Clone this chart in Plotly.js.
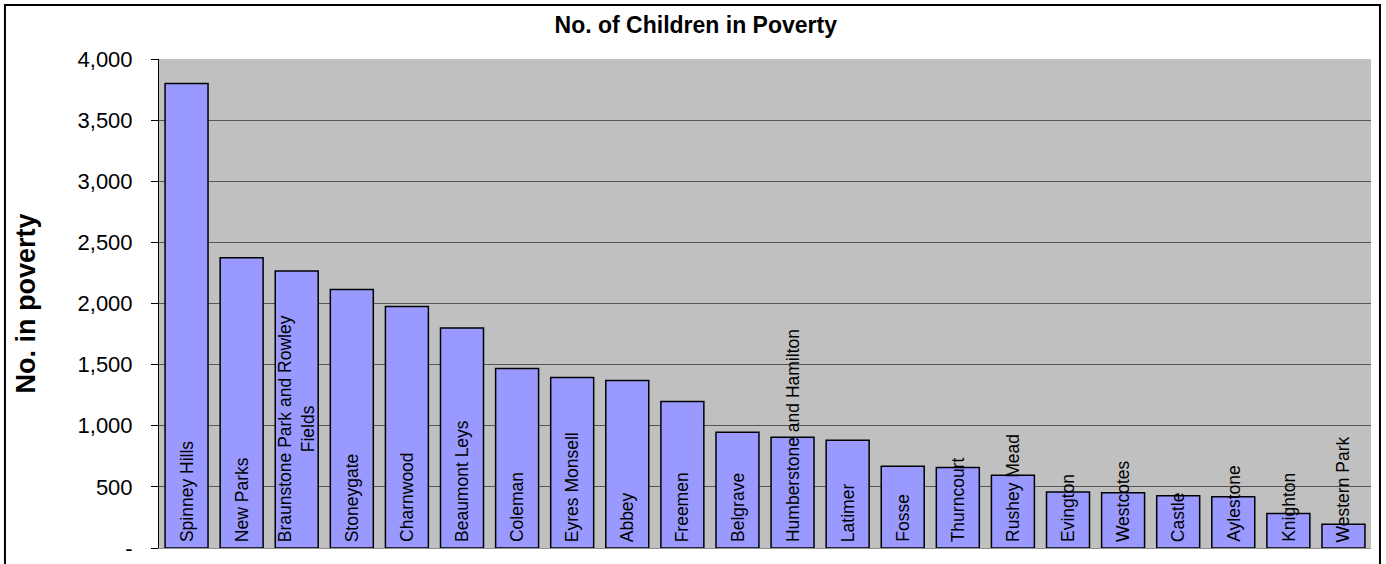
<!DOCTYPE html>
<html>
<head>
<meta charset="utf-8">
<script src="https://cdn.plot.ly/plotly-3.0.1.min.js"></script>
<style>html,body{margin:0;padding:0;background:#fff;}#chart{width:1386px;height:564px;}</style>
</head>
<body>
<div id="chart"></div>
<script>
const categories = ["Spinney Hills","New Parks","Braunstone Park and Rowley Fields","Stoneygate","Charnwood","Beaumont Leys","Coleman","Eyres Monsell","Abbey","Freemen","Belgrave","Humberstone and Hamilton","Latimer","Fosse","Thurncourt","Rushey Mead","Evington","Westcotes","Castle","Aylestone","Knighton","Western Park"];
const barLabels = ["Spinney Hills","New Parks","Braunstone Park and Rowley<br>Fields","Stoneygate","Charnwood","Beaumont Leys","Coleman","Eyres Monsell","Abbey","Freemen","Belgrave","Humberstone and Hamilton","Latimer","Fosse","Thurncourt","Rushey Mead","Evington","Westcotes","Castle","Aylestone","Knighton","Western Park"];
const children = [3800,2375,2265,2115,1975,1800,1468,1394,1370,1198,947,906,881,669,658,595,459,451,427,419,282,195];
const yTickVals = [0,500,1000,1500,2000,2500,3000,3500,4000];
const yTickText = ["-","500","1,000","1,500","2,000","2,500","3,000","3,500","4,000"];

const FONT = "Arial, 'Liberation Sans', sans-serif";

const trace = {
  type: "bar",
  x: categories,
  y: children,
  marker: {color: "#9999FF", line: {color: "#000000", width: 1.5}},
  hoverinfo: "x+y"
};

const annotations = categories.map((c, i) => ({
  x: c, y: 0, xref: "x", yref: "y",
  text: barLabels[i],
  textangle: -90,
  showarrow: false,
  xanchor: "center", yanchor: "bottom",
  yshift: 4,
  align: "center",
  font: {family: FONT, size: 17.5, color: "#000000"}
}));

const layout = {
  width: 1386, height: 564,
  margin: {l: 159, r: 15, t: 59, b: 16, pad: 0},
  paper_bgcolor: "#ffffff",
  plot_bgcolor: "#C0C0C0",
  showlegend: false,
  bargap: 0.22,
  font: {family: FONT, color: "#000000"},
  title: {text: "<b>No. of Children in Poverty</b>", x: 0.502, xref: "container", xanchor: "center", y: 0.955, yref: "container", yanchor: "middle", font: {family: FONT, size: 23, color: "#000000"}},
  xaxis: {
    type: "category",
    range: [-0.5, categories.length - 0.5],
    showticklabels: false,
    ticks: "",
    showgrid: false,
    zeroline: false,
    showline: true,
    linecolor: "#909090",
    linewidth: 1,
    fixedrange: true
  },
  yaxis: {
    range: [0, 4000],
    tickvals: yTickVals,
    ticktext: yTickText,
    ticks: "outside",
    ticklen: 7,
    tickcolor: "#000000",
    ticklabelstandoff: 14,
    tickfont: {family: FONT, size: 22, color: "#000000"},
    showgrid: true,
    gridcolor: "#555555",
    gridwidth: 1,
    zeroline: false,
    showline: true,
    linecolor: "#000000",
    linewidth: 1,
    title: {text: "<b>No. in poverty</b>", standoff: 34, font: {family: FONT, size: 27, color: "#000000"}},
    fixedrange: true
  },
  annotations: annotations,
  shapes: [{
    type: "rect", xref: "paper", yref: "paper",
    x0: -0.1271, x1: 1.0074, y0: -0.04, y1: 1.1104,
    line: {color: "#000000", width: 2}, fillcolor: "rgba(0,0,0,0)", layer: "above"
  }]
};

Plotly.newPlot("chart", [trace], layout, {displayModeBar: false, staticPlot: true});
</script>
</body>
</html>
